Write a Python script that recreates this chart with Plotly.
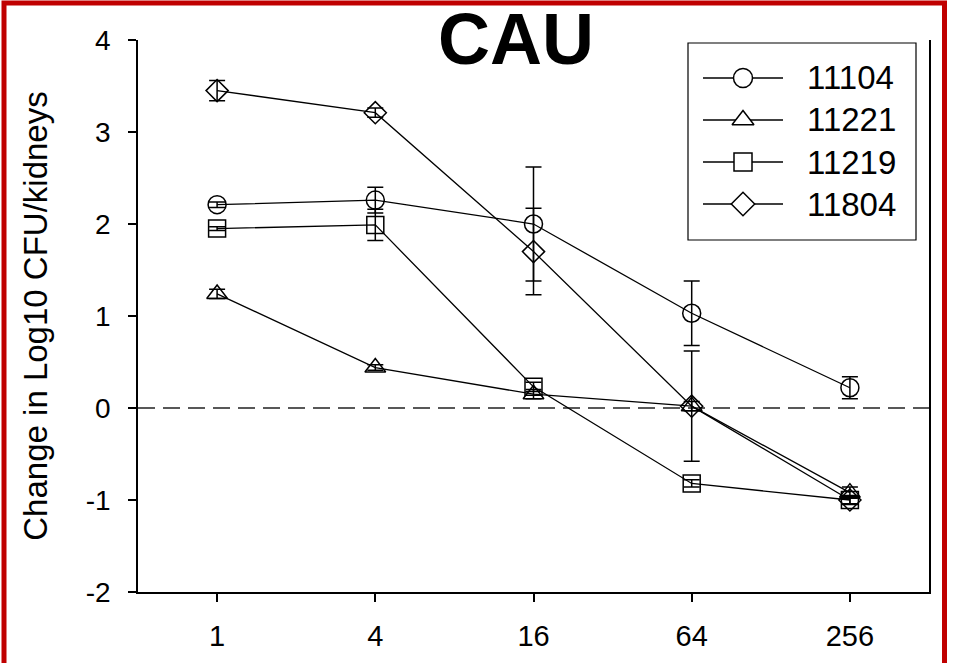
import plotly.graph_objects as go

doses = [1, 4, 16, 64, 256]
tick_labels = ["1", "4", "16", "64", "256"]
y_ticks = [-2, -1, 0, 1, 2, 3, 4]
y_tick_labels = ["-2", "-1", "0", "1", "2", "3", "4"]

strain_names = ["11104", "11221", "11219", "11804"]
s11104 = [2.21, 2.26, 2.00, 1.03, 0.22]
e11104 = [0.03, 0.14, 0.62, 0.35, 0.12]
s11221 = [1.24, 0.44, 0.15, 0.02, -0.92]
e11221 = [0.05, 0.03, 0.05, 0.05, 0.06]
s11219 = [1.95, 1.99, 0.23, -0.82, -1.00]
e11219 = [0.02, 0.17, 0.05, 0.04, 0.04]
s11804 = [3.45, 3.21, 1.70, 0.02, -1.00]
e11804 = [0.11, 0.05, 0.47, 0.60, 0.05]

series = [s11104, s11221, s11219, s11804]
errors = [e11104, e11221, e11219, e11804]
symbols = ["circle-open", "triangle-up-open", "square-open", "diamond-open"]
sizes = [18, 18, 17, 17]

FONT = "Arial, 'Liberation Sans', sans-serif"

W, H = 960, 663
L, R, T, B = 138, 929, 40, 592
pw, ph = R - L, B - T


def px2paper_x(p):
    return (p - L) / pw


def px2paper_y(p):
    return (B - p) / ph


fig = go.Figure()
for name, ys, es, sym, sz in zip(strain_names, series, errors, symbols, sizes):
    fig.add_trace(go.Scatter(
        x=doses, y=ys, name=name, mode="lines+markers", showlegend=False,
        line=dict(color="black", width=1.3),
        marker=dict(symbol=sym, size=sz, color="black", line=dict(width=1.5, color="black")),
        error_y=dict(type="data", array=es, visible=True, color="black", thickness=1.5, width=8),
    ))

# zero reference line
fig.add_shape(type="line", xref="paper", yref="y", x0=0, x1=1, y0=0, y1=0,
              line=dict(color="#222222", width=1.5, dash="17px,8px"), layer="below")

# ---- legend (drawn by hand to match the long SigmaPlot-style sample lines) ----
leg_left, leg_right, leg_top, leg_bottom = 688, 916, 43, 240
leg_rows = [78, 120, 162, 204]
line_x0, line_x1, mark_x, text_x = 703, 783, 743, 805

fig.add_shape(type="rect", xref="paper", yref="paper",
              x0=px2paper_x(leg_left), x1=px2paper_x(leg_right),
              y0=px2paper_y(leg_bottom), y1=px2paper_y(leg_top),
              line=dict(color="black", width=1.2), fillcolor="white", layer="below")
for name, sym, sz, yy in zip(strain_names, symbols, sizes, leg_rows):
    fig.add_shape(type="line", xref="paper", yref="paper",
                  x0=px2paper_x(line_x0), x1=px2paper_x(line_x1),
                  y0=px2paper_y(yy), y1=px2paper_y(yy),
                  line=dict(color="black", width=1.3), layer="below")
    fig.add_annotation(text=name, xref="paper", yref="paper",
                       x=px2paper_x(text_x), y=px2paper_y(yy), xanchor="left", yanchor="middle",
                       showarrow=False, font=dict(size=33, family=FONT, color="black"))
    # legend sample marker on an invisible pixel-scaled overlay axis
    fig.add_trace(go.Scatter(
        x=[mark_x], y=[yy], xaxis="x2", yaxis="y2", mode="markers", showlegend=False,
        hoverinfo="skip",
        marker=dict(symbol=sym.replace("-open", ""), size=sz + 1, color="white",
                    line=dict(width=1.5, color="black")),
    ))

# red frame
fig.add_shape(type="rect", xref="paper", yref="paper",
              x0=px2paper_x(4), x1=px2paper_x(944.5), y0=px2paper_y(700), y1=px2paper_y(3),
              line=dict(color="#c00000", width=5), fillcolor="rgba(0,0,0,0)")

fig.update_layout(
    width=W, height=H,
    margin=dict(l=L, r=W - R, t=T, b=H - B, autoexpand=False),
    paper_bgcolor="white", plot_bgcolor="white",
    font=dict(family=FONT, color="black"),
    title=dict(text="<b>CAU</b>", font=dict(size=72, family=FONT, color="black"),
               x=516 / W, xanchor="center", y=1 - 39 / H, yanchor="middle",
               xref="container", yref="container"),
    showlegend=False,
    xaxis=dict(type="log", range=[-0.30103, 2.70927], tickvals=doses, ticktext=tick_labels,
               showgrid=False, zeroline=False, showline=True, linecolor="black", linewidth=1.5,
               ticks="outside", ticklen=8, tickwidth=1.5, tickcolor="black",
               tickfont=dict(size=29, family=FONT, color="black"), ticklabelstandoff=9),
    yaxis=dict(range=[-2, 4], tickvals=y_ticks, ticktext=y_tick_labels, showgrid=False,
               zeroline=False, showline=True, linecolor="black", linewidth=1.5, mirror=True,
               ticks="outside", ticklen=8, tickwidth=1.5, tickcolor="black",
               tickfont=dict(size=28, family=FONT, color="black"), ticklabelstandoff=12,
               title=dict(text="Change in Log10 CFU/kidneys",
                          font=dict(size=33, family=FONT, color="black"), standoff=28)),
    xaxis2=dict(overlaying="x", anchor="y2", range=[L, R], visible=False, fixedrange=True),
    yaxis2=dict(overlaying="y", anchor="x2", range=[B, T], visible=False, fixedrange=True),
)

fig.write_html("out.html")
